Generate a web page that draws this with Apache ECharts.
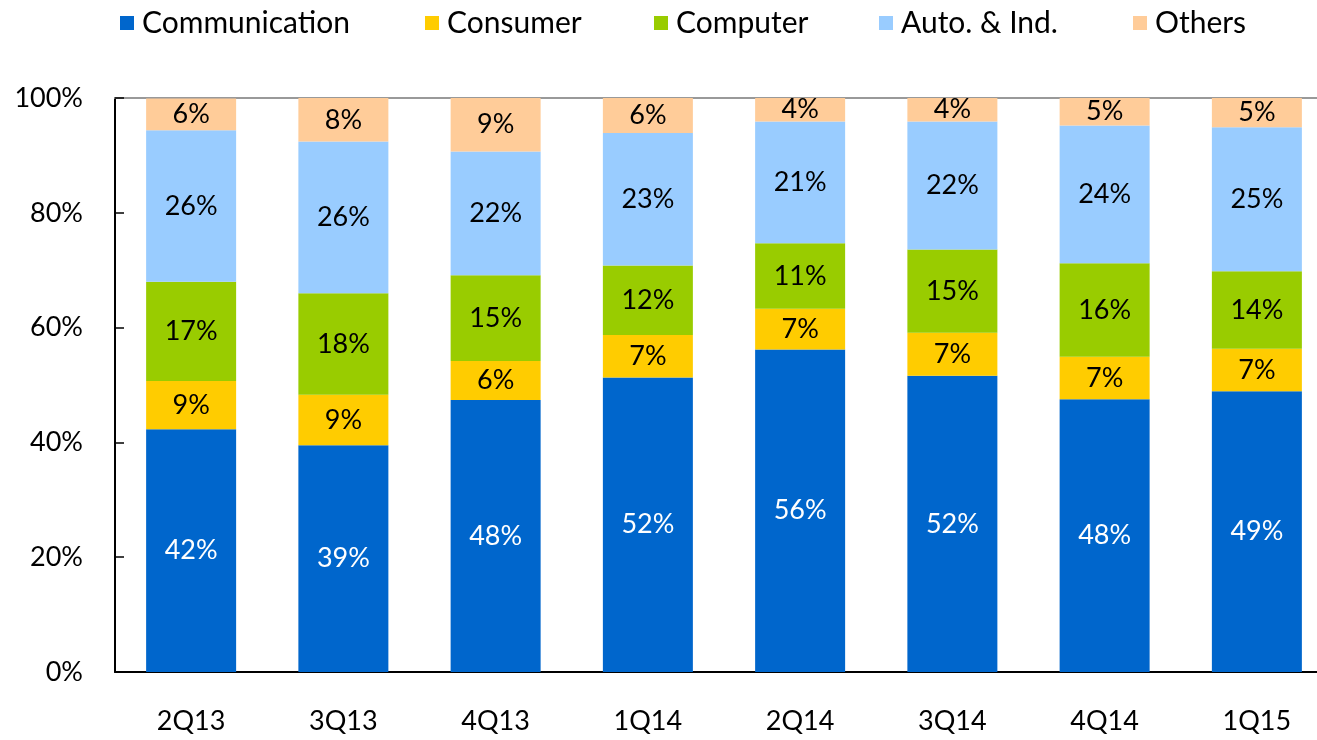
<!DOCTYPE html>
<html>
<head>
<meta charset="utf-8">
<script src="https://cdn.jsdelivr.net/npm/echarts@6/dist/echarts.min.js"></script>
<style>
  html, body { margin: 0; padding: 0; background: #fff; }
  #main { width: 1317px; height: 740px; }
</style>
</head>
<body>
<div id="main"></div>
<script>
var quarters = ['2Q13', '3Q13', '4Q13', '1Q14', '2Q14', '3Q14', '4Q14', '1Q15'];
var yTicks = [0, 20, 40, 60, 80, 100];

// segment heights (%)
var communication = [42.3, 39.5, 47.4, 51.3, 56.2, 51.6, 47.5, 48.9];
var consumer      = [8.4, 8.8, 6.8, 7.4, 7.1, 7.5, 7.4, 7.4];
var computer      = [17.3, 17.7, 14.9, 12.1, 11.4, 14.5, 16.3, 13.5];
var autoInd       = [26.4, 26.4, 21.6, 23.1, 21.2, 22.3, 24.0, 25.1];
var others        = [5.5, 7.6, 9.3, 6.1, 4.1, 4.1, 4.8, 5.1];

// printed labels
var communicationLbl = [42, 39, 48, 52, 56, 52, 48, 49];
var consumerLbl      = [9, 9, 6, 7, 7, 7, 7, 7];
var computerLbl      = [17, 18, 15, 12, 11, 15, 16, 14];
var autoIndLbl       = [26, 26, 22, 23, 21, 22, 24, 25];
var othersLbl        = [6, 8, 9, 6, 4, 4, 5, 5];

var FONT = 'Lato';
var myChart = echarts.init(document.getElementById('main'));

function seg(name, data, lbl, color, textColor){
    return {
        name: name,
        type: 'bar',
        stack: 'total',
        barWidth: 90,
        data: data,
        itemStyle: { color: color },
        label: {
            show: true,
            position: 'inside',
            color: textColor,
            fontFamily: FONT,
            fontSize: 27,
            formatter: function(p){ return lbl[p.dataIndex] + '%'; }
        },
        emphasis: { disabled: true }
    };
}

var names = ['Communication', 'Consumer', 'Computer', 'Auto. & Ind.', 'Others'];
var legendX = [115, 420, 649, 874, 1128];
var legends = names.map(function(n, i){
    return {
        data: [n],
        left: legendX[i],
        top: 3,
        icon: 'rect',
        itemWidth: 14,
        itemHeight: 14,
        itemGap: 8,
        textStyle: { fontFamily: FONT, fontSize: 30, color: '#000', padding: [0, 0, 0, 3] }
    };
});

var option = {
    animation: false,
    legend: legends,
    grid: { left: 115, top: 98, bottom: 68, right: -16, outerBoundsMode: 'none', containLabel: false },
    xAxis: [{
        type: 'category',
        data: quarters,
        axisLine: { lineStyle: { color: '#000', width: 2 } },
        axisTick: { inside: true, length: 10, lineStyle: { color: '#000', width: 1.5 } },
        axisLabel: { margin: 36, color: '#000', fontFamily: FONT, fontSize: 27 }
    }, {
        type: 'category',
        position: 'top',
        data: quarters,
        axisLine: { lineStyle: { color: '#999', width: 2 } },
        axisTick: { show: false },
        axisLabel: { show: false }
    }],
    yAxis: {
        type: 'value',
        min: yTicks[0],
        max: yTicks[yTicks.length - 1],
        interval: 20,
        axisLine: { show: true, lineStyle: { color: '#000', width: 2 } },
        axisTick: { show: true, inside: true, length: 9, lineStyle: { color: '#000', width: 1.5 } },
        splitLine: { show: false },
        axisLabel: { margin: 32, color: '#000', fontFamily: FONT, fontSize: 27, formatter: '{value}%' }
    },
    series: [
        seg('Communication', communication, communicationLbl, '#0066CC', '#fff'),
        seg('Consumer', consumer, consumerLbl, '#FFCC00', '#000'),
        seg('Computer', computer, computerLbl, '#99CC00', '#000'),
        seg('Auto. & Ind.', autoInd, autoIndLbl, '#99CCFF', '#000'),
        seg('Others', others, othersLbl, '#FFCC99', '#000')
    ]
};
myChart.setOption(option);
</script>
</body>
</html>
